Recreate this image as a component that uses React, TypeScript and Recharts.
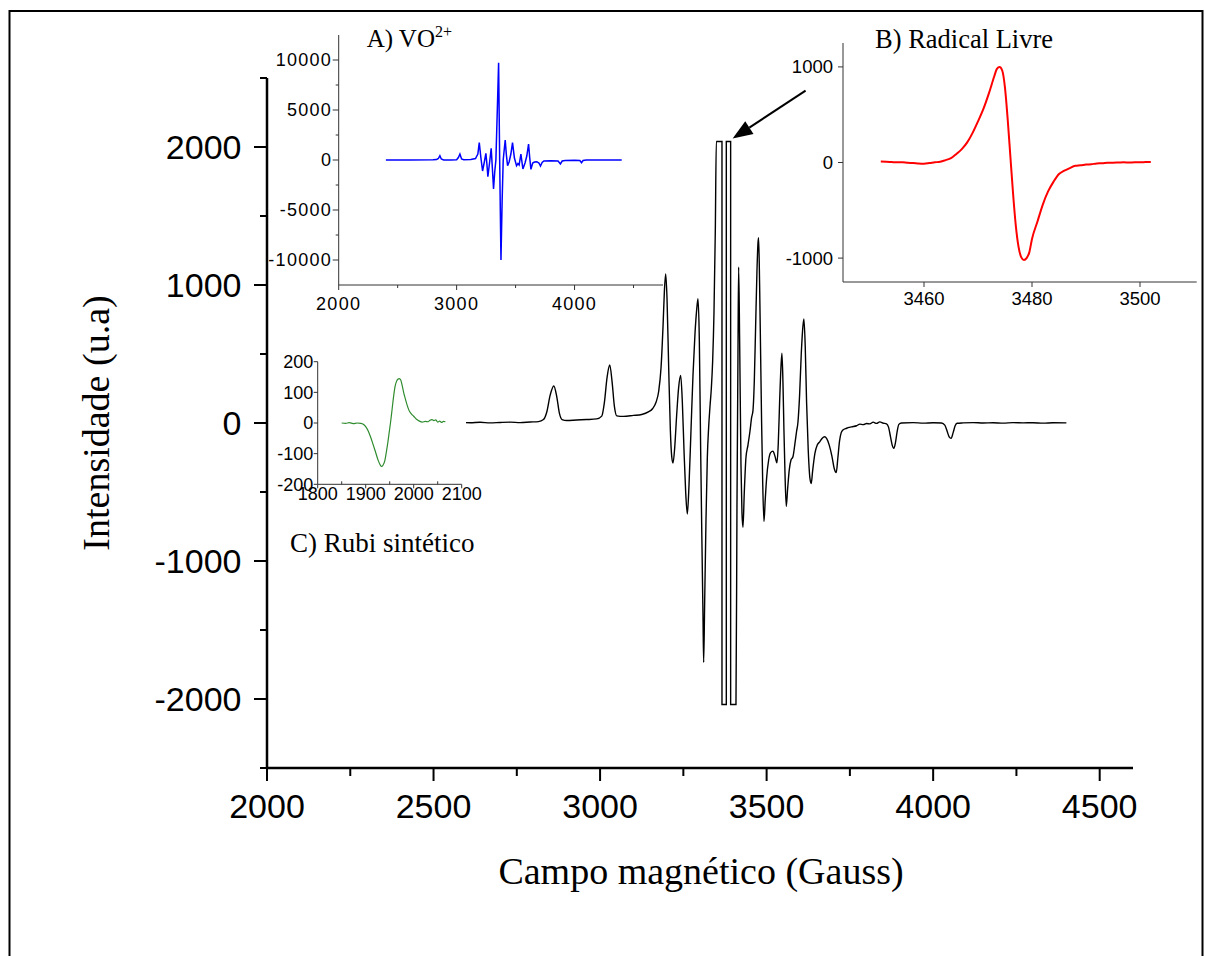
import React from "react";
import { LineChart, Line, XAxis, YAxis, ReferenceLine } from "recharts";

const SANS = "'Liberation Sans', Arial, sans-serif";
const SERIF = "'Liberation Serif', 'Times New Roman', serif";

// ---------------- Main EPR spectrum (Campo magnético vs Intensidade) ----------------
const mainField = [
  2400, 2430, 2460, 2490, 2520, 2550, 2580, 2610, 2640, 2670,
  2700, 2730, 2760, 2790, 2815, 2830, 2840, 2850, 2861, 2870,
  2878, 2886, 2900, 2930, 2960, 2990, 3005, 3013, 3021, 3029,
  3036, 3043, 3050, 3070, 3100, 3125, 3145, 3158, 3168, 3176,
  3183, 3189, 3193, 3197, 3201, 3206, 3211, 3215, 3219, 3224,
  3230, 3236, 3242, 3247, 3252, 3257, 3262, 3267, 3273, 3279,
  3285, 3290, 3294, 3298, 3302, 3306, 3309, 3311, 3314, 3318,
  3322, 3326, 3330, 3334, 3338, 3342, 3346, 3349, 3366, 3366,
  3379, 3379, 3392, 3392, 3408, 3411, 3414, 3416, 3419, 3423,
  3426, 3429, 3433, 3438, 3444, 3450, 3455, 3459, 3463, 3467,
  3471, 3474, 3476, 3479, 3482, 3485, 3488, 3492, 3496, 3500,
  3506, 3512, 3519, 3525, 3531, 3535, 3539, 3543, 3546, 3549,
  3552, 3555, 3559, 3563, 3568, 3573, 3579, 3585, 3590, 3594,
  3599, 3604, 3609, 3612, 3616, 3620, 3625, 3630, 3634, 3638,
  3645, 3652, 3660, 3667, 3674, 3680, 3688, 3696, 3703, 3709,
  3714, 3719, 3724, 3729, 3740, 3755, 3770, 3780, 3790, 3800,
  3810, 3820, 3830, 3840, 3850, 3860, 3866, 3872, 3877, 3882,
  3887, 3892, 3897, 3905, 3940, 3970, 4000, 4025, 4035, 4042,
  4048, 4054, 4060, 4066, 4072, 4090, 4120, 4150, 4180, 4210,
  4240, 4270, 4300, 4330, 4360, 4400,
];
const mainIntensity = [
  0, 3, -2, 4, 1, -1, 3, 2, 5, 1,
  4, 6, 3, 7, 10, 25, 80, 200, 268, 190,
  70, 25, 18, 22, 25, 30, 50, 150, 330, 420,
  300, 120, 52, 48, 55, 62, 80, 105, 150, 230,
  400, 700, 950, 1080, 900, 400, -50, -240, -290, -180,
  60, 260, 345, 150, -200, -500, -660, -450, -50, 350,
  650, 820, 900, 600, -200, -900, -1400, -1735, -1300, -700,
  -250, -30, 120, 250, 450, 800, 1400, 2040, 2040, -2040,
  -2040, 2040, 2040, -2040, -2040, -600, 500, 1130, 600, -300,
  -650, -756, -500, -250, -160, -60, 40, 90, 300, 700,
  1100, 1300, 1342, 1000, 500, 0, -400, -714, -550, -400,
  -270, -215, -204, -240, -288, -150, 150, 400, 506, 300,
  -50, -350, -604, -480, -340, -270, -245, -150, -60, 4,
  200, 500, 700, 754, 550, 150, -200, -400, -438, -350,
  -220, -160, -135, -110, -100, -112, -160, -240, -330, -359,
  -250, -130, -70, -51, -38, -28, -20, -8, -12, -4,
  -6, 6, -3, 8, -1, -6, -30, -100, -160, -183,
  -140, -60, -10, 0, 3, -1, 2, 0, -15, -60,
  -100, -111, -70, -20, -2, 1, 3, 0, 2, -1,
  3, 1, 2, -1, 2, 1,
];
const mainXTicks = [2000, 2250, 2500, 2750, 3000, 3250, 3500, 3750, 4000, 4250, 4500];
const mainYTicks = [-2500, -2000, -1500, -1000, -500, 0, 500, 1000, 1500, 2000, 2500];

// ---------------- Inset A) VO2+ ----------------
const vo2Field = [
  2400, 2600, 2800, 2830, 2845, 2858, 2870, 2890, 2950, 3000,
  3015, 3028, 3042, 3060, 3120, 3160, 3180, 3192, 3205, 3220,
  3235, 3248, 3256, 3265, 3280, 3293, 3303, 3313, 3323, 3333,
  3345, 3356, 3365, 3376, 3386, 3395, 3405, 3412, 3422, 3432,
  3445, 3460, 3474, 3490, 3508, 3520, 3530, 3545, 3562, 3580,
  3595, 3610, 3620, 3630, 3645, 3660, 3680, 3698, 3711, 3725,
  3740, 3800, 3860, 3880, 3895, 3920, 4000, 4045, 4059, 4072,
  4100, 4250, 4400,
];
const vo2Intensity = [
  0, 10, 20, 40, 150, 430, 100, 0, 10, 30,
  250, 600, 100, 30, 60, 150, 600, 1730, 300, -1100,
  -200, 670, -300, -1670, -200, 1170, -800, -2900, -1200, 0,
  5000, 9730, 0, -10000, -4000, 0, 1200, 2000, 500, -570,
  -200, 600, 1730, 200, -570, -350, -500, 600, -900, -300,
  400, 1600, 200, -930, -300, -200, -170, -300, -600, -250,
  -100, -80, -100, -400, -100, -50, -30, -50, -270, -50,
  0, 10, 0,
];
const vo2XTicks = [2000, 2500, 3000, 3500, 4000, 4500];
const vo2YTicks = [-10000, -7500, -5000, -2500, 0, 2500, 5000, 7500, 10000];

// ---------------- Inset B) Radical Livre ----------------
const radicalField = [
  3452, 3453, 3454, 3455, 3456, 3457, 3458, 3459, 3460, 3461,
  3462, 3463, 3464, 3465, 3466, 3467, 3468, 3469, 3470, 3471,
  3472, 3473, 3473.5, 3474, 3474.5, 3475, 3475.5, 3476, 3476.5, 3477,
  3477.5, 3478, 3478.5, 3479, 3479.5, 3480, 3481, 3482, 3483, 3484,
  3485, 3486, 3487, 3488, 3489, 3490, 3491, 3492, 3493, 3494,
  3495, 3496, 3497, 3498, 3499, 3500, 3501, 3502,
];
const radicalIntensity = [
  10, 8, 5, 2, 3, -3, -5, -10, -12, -6,
  2, 8, 25, 45, 90, 140, 210, 310, 430, 560,
  720, 900, 980, 1000, 960, 780, 450, 60, -330, -660,
  -880, -990, -1020, -1000, -940, -800, -620, -440, -300, -200,
  -120, -85, -58, -35, -30, -22, -18, -10, -8, -3,
  -2, 0, 2, -1, 3, 2, 4, 5,
];
const radicalXTicks = [3460, 3480, 3500];
const radicalYTicks = [-1000, 0, 1000];

// ---------------- Inset C) Rubi sintético ----------------
const rubyField = [
  1850, 1858, 1866, 1874, 1882, 1890, 1895, 1900, 1905, 1910,
  1915, 1920, 1926, 1930, 1933, 1936, 1940, 1943, 1946, 1949,
  1952, 1955, 1958, 1961, 1964, 1967, 1970, 1973, 1976, 1979,
  1982, 1986, 1990, 1995, 2000, 2006, 2012, 2018, 2024, 2030,
  2034, 2038, 2042, 2046, 2050, 2054, 2058, 2062, 2066,
];
const rubyIntensity = [
  0, -1, 1, -2, 0, -1, -4, -12, -25, -45,
  -68, -92, -122, -136, -142, -138, -122, -95, -65, -30,
  5, 45, 85, 118, 135, 143, 145, 140, 122, 100,
  82, 60, 42, 30, 22, 12, 6, 3, 5, 4,
  9, 11, 8, 10, 3, 6, 2, 5, 4,
];
const rubyXTicks = [1800, 1850, 1900, 1950, 2000, 2050, 2100];
const rubyYTicks = [-200, -100, 0, 100, 200];
const rubyRightTicks = [-100, 0, 100];

// arrow annotation (in data units of the main chart)
const arrowFrom = { x: 3617, y: 2408 };
const arrowTo = { x: 3398, y: 2061 };

const zip = (xs: number[], ys: number[]) => xs.map((g, i) => ({ g, v: ys[i] }));
const mainData = zip(mainField, mainIntensity);
const vo2Data = zip(vo2Field, vo2Intensity);
const radicalData = zip(radicalField, radicalIntensity);
const rubyData = zip(rubyField, rubyIntensity);

type Side = "bottom" | "left" | "right";
interface TickCfg {
  side: Side;
  major: (v: number) => boolean;
  majorLen: number;
  minorLen: number;
  labelOffset: number;
  fontSize: number;
  letterSpacing?: number;
  stroke: string;
  strokeWidth: number;
  labels?: boolean;
}

const makeTick = (c: TickCfg) => (props: any) => {
  const { x, y, payload } = props;
  const v: number = payload.value;
  const isMajor = c.major(v);
  const len = isMajor ? c.majorLen : c.minorLen;
  const showLabel = isMajor && c.labels !== false;
  const ts: React.CSSProperties = {
    fontFamily: SANS,
    fontSize: c.fontSize,
    letterSpacing: c.letterSpacing ?? 0,
    fill: "#000",
  };
  if (c.side === "bottom") {
    return (
      <g>
        {len !== 0 && <line x1={x} y1={y} x2={x} y2={y + len} stroke={c.stroke} strokeWidth={c.strokeWidth} />}
        {showLabel && (
          <text x={x} y={y + c.labelOffset} dy="0.71em" textAnchor="middle" style={ts}>
            {v}
          </text>
        )}
      </g>
    );
  }
  if (c.side === "left") {
    return (
      <g>
        {len !== 0 && <line x1={x} y1={y} x2={x - len} y2={y} stroke={c.stroke} strokeWidth={c.strokeWidth} />}
        {showLabel && (
          <text x={x - c.labelOffset} y={y} dy="0.355em" textAnchor="end" style={ts}>
            {v}
          </text>
        )}
      </g>
    );
  }
  return (
    <g>
      {len !== 0 && <line x1={x} y1={y} x2={x + len} y2={y} stroke={c.stroke} strokeWidth={c.strokeWidth} />}
    </g>
  );
};

const mainXTick = makeTick({ side: "bottom", major: (v) => v % 500 === 0, majorLen: 13, minorLen: 8, labelOffset: 26, fontSize: 34, stroke: "#000", strokeWidth: 2 });
const mainYTick = makeTick({ side: "left", major: (v) => v % 1000 === 0, majorLen: 13, minorLen: 7, labelOffset: 25.5, fontSize: 34, stroke: "#000", strokeWidth: 2 });

const vo2XTick = makeTick({ side: "bottom", major: (v) => v % 1000 === 0, majorLen: 5, minorLen: 3, labelOffset: 12, fontSize: 18, letterSpacing: 1.3, stroke: "#333", strokeWidth: 1 });
const vo2YTick = makeTick({ side: "left", major: (v) => v % 5000 === 0, majorLen: 6, minorLen: 3, labelOffset: 6.5, fontSize: 18, letterSpacing: 1.3, stroke: "#333", strokeWidth: 1 });

const radXTick = makeTick({ side: "bottom", major: () => true, majorLen: 5, minorLen: 3, labelOffset: 10, fontSize: 18.5, stroke: "#333", strokeWidth: 1 });
const radYTick = makeTick({ side: "left", major: () => true, majorLen: 5, minorLen: 3, labelOffset: 10, fontSize: 18.5, stroke: "#333", strokeWidth: 1 });

const rubyXTick = makeTick({ side: "bottom", major: (v) => v % 100 === 0, majorLen: 4, minorLen: -3, labelOffset: 2.5, fontSize: 18, stroke: "#333", strokeWidth: 1 });
const rubyYTick = makeTick({ side: "left", major: () => true, majorLen: 4, minorLen: 2, labelOffset: 4.5, fontSize: 18, stroke: "#333", strokeWidth: 1 });
const rubyRTick = makeTick({ side: "right", major: () => true, majorLen: 3, minorLen: 3, labelOffset: 0, fontSize: 18, stroke: "#333", strokeWidth: 1, labels: false });

const ArrowShape = (p: any) => {
  const { x1, y1, x2, y2 } = p;
  const dx = x2 - x1;
  const dy = y2 - y1;
  const len = Math.hypot(dx, dy) || 1;
  const ux = dx / len;
  const uy = dy / len;
  const L = 20;
  const W = 7.5;
  const bx = x2 - ux * L;
  const by = y2 - uy * L;
  return (
    <g>
      <line x1={x1} y1={y1} x2={bx} y2={by} stroke="#000" strokeWidth={2} />
      <polygon points={`${x2},${y2} ${bx - uy * W},${by + ux * W} ${bx + uy * W},${by - ux * W}`} fill="#000" />
    </g>
  );
};

export default function App() {
  return (
    <div style={{ position: "relative", width: 1205, height: 956, background: "#fff", overflow: "hidden" }}>
      <style>{"body{margin:0;}"}</style>

      {/* Main chart */}
      <div style={{ position: "absolute", left: 0, top: 0 }}>
        <LineChart width={1205} height={956} data={mainData} margin={{ top: 78, right: 72, bottom: 128, left: 187 }}>
          <XAxis
            dataKey="g"
            type="number"
            domain={[2000, 4600]}
            ticks={mainXTicks}
            interval={0}
            allowDataOverflow
            height={60}
            tickLine={false}
            tickSize={0}
            tickMargin={0}
            axisLine={{ stroke: "#000", strokeWidth: 2.5 }}
            tick={mainXTick}
          />
          <YAxis
            type="number"
            domain={[-2500, 2500]}
            ticks={mainYTicks}
            interval={0}
            allowDataOverflow
            width={80}
            tickLine={false}
            tickSize={0}
            tickMargin={0}
            axisLine={{ stroke: "#000", strokeWidth: 2.5 }}
            tick={mainYTick}
          />
          <Line dataKey="v" type="monotone" stroke="#000" strokeWidth={1.4} dot={false} isAnimationActive={false} />
          <ReferenceLine segment={[arrowFrom, arrowTo]} shape={ArrowShape} />
        </LineChart>
      </div>

      {/* Inset A */}
      <div style={{ position: "absolute", left: 260, top: 25 }}>
        <LineChart width={410} height={290} data={vo2Data} margin={{ top: 10, right: 7, bottom: 2, left: 0 }}>
          <XAxis
            dataKey="g"
            type="number"
            domain={[2000, 4750]}
            ticks={vo2XTicks}
            interval={0}
            allowDataOverflow
            height={28}
            tickLine={false}
            tickSize={0}
            tickMargin={0}
            axisLine={{ stroke: "#333", strokeWidth: 1 }}
            tick={vo2XTick}
          />
          <YAxis
            type="number"
            domain={[-12500, 12500]}
            ticks={vo2YTicks}
            interval={0}
            allowDataOverflow
            width={78.7}
            tickLine={false}
            tickSize={0}
            tickMargin={0}
            axisLine={{ stroke: "#333", strokeWidth: 1 }}
            tick={vo2YTick}
          />
          <Line dataKey="v" type="linear" stroke="#0000ff" strokeWidth={1.5} dot={false} isAnimationActive={false} />
        </LineChart>
      </div>

      {/* Inset B */}
      <div style={{ position: "absolute", left: 780, top: 30 }}>
        <LineChart width={420} height={285} data={radicalData} margin={{ top: 13, right: 3.3, bottom: 3, left: 0 }}>
          <XAxis
            dataKey="g"
            type="number"
            domain={[3445, 3510.5]}
            ticks={radicalXTicks}
            interval={0}
            allowDataOverflow
            height={30}
            tickLine={false}
            tickSize={0}
            tickMargin={0}
            axisLine={{ stroke: "#333", strokeWidth: 1 }}
            tick={radXTick}
          />
          <YAxis
            type="number"
            domain={[-1250, 1250]}
            ticks={radicalYTicks}
            interval={0}
            allowDataOverflow
            width={63}
            tickLine={false}
            tickSize={0}
            tickMargin={0}
            axisLine={{ stroke: "#333", strokeWidth: 1 }}
            tick={radYTick}
          />
          <Line dataKey="v" type="monotone" stroke="#ff0000" strokeWidth={2} dot={false} isAnimationActive={false} />
        </LineChart>
      </div>

      {/* white backing of inset C's plot box (hides the main trace beneath it) */}
      <div style={{ position: "absolute", left: 272, top: 352, width: 194, height: 136, background: "#fff" }} />

      {/* Inset C */}
      <div style={{ position: "absolute", left: 272, top: 352 }}>
        <LineChart width={220} height={158} data={rubyData} margin={{ top: 9.7, right: 30.3, bottom: 3.7, left: 5.7 }}>
          <XAxis
            dataKey="g"
            type="number"
            domain={[1800, 2100]}
            ticks={rubyXTicks}
            interval={0}
            allowDataOverflow
            height={22}
            tickLine={false}
            tickSize={0}
            tickMargin={0}
            axisLine={{ stroke: "#333", strokeWidth: 1 }}
            tick={rubyXTick}
          />
          <XAxis
            xAxisId="top"
            orientation="top"
            type="number"
            domain={[1800, 2100]}
            allowDataOverflow
            height={0}
            tick={false}
            tickLine={false}
            axisLine={{ stroke: "#333", strokeWidth: 1 }}
          />
          <YAxis
            type="number"
            domain={[-200, 200]}
            ticks={rubyYTicks}
            interval={0}
            allowDataOverflow
            width={40}
            tickLine={false}
            tickSize={0}
            tickMargin={0}
            axisLine={{ stroke: "#333", strokeWidth: 1 }}
            tick={rubyYTick}
          />
          <YAxis
            yAxisId="right"
            orientation="right"
            type="number"
            domain={[-200, 200]}
            ticks={rubyRightTicks}
            interval={0}
            allowDataOverflow
            width={0}
            tickLine={false}
            tickSize={0}
            tickMargin={0}
            axisLine={{ stroke: "#333", strokeWidth: 1 }}
            tick={rubyRTick}
          />
          <Line dataKey="v" type="monotone" stroke="#2e8b2e" strokeWidth={1.2} dot={false} isAnimationActive={false} />
        </LineChart>
      </div>

      {/* Frame, axis titles and inset titles */}
      <svg width={1205} height={956} style={{ position: "absolute", left: 0, top: 0, pointerEvents: "none" }}>
        <rect x={9.5} y={11} width={1193} height={980} fill="none" stroke="#000" strokeWidth={2} />
        <text
          x={109}
          y={423}
          transform="rotate(-90 109 423)"
          textAnchor="middle"
          style={{ fontFamily: SERIF, fontSize: 38, fill: "#000" }}
        >
          Intensidade (u.a)
        </text>
        <text x={701} y={883.5} textAnchor="middle" style={{ fontFamily: SERIF, fontSize: 38, fill: "#000" }}>
          Campo magnético (Gauss)
        </text>
        <text x={366.7} y={47.3} style={{ fontFamily: SERIF, fontSize: 25, fill: "#000" }}>
          A) VO
          <tspan dy={-10} style={{ fontSize: 16 }}>
            2+
          </tspan>
        </text>
        <text x={875} y={48.3} style={{ fontFamily: SERIF, fontSize: 26.5, fill: "#000" }}>
          B) Radical Livre
        </text>
        <text x={290} y={551.7} style={{ fontFamily: SERIF, fontSize: 27, fill: "#000" }}>
          C) Rubi sintético
        </text>
      </svg>
    </div>
  );
}
